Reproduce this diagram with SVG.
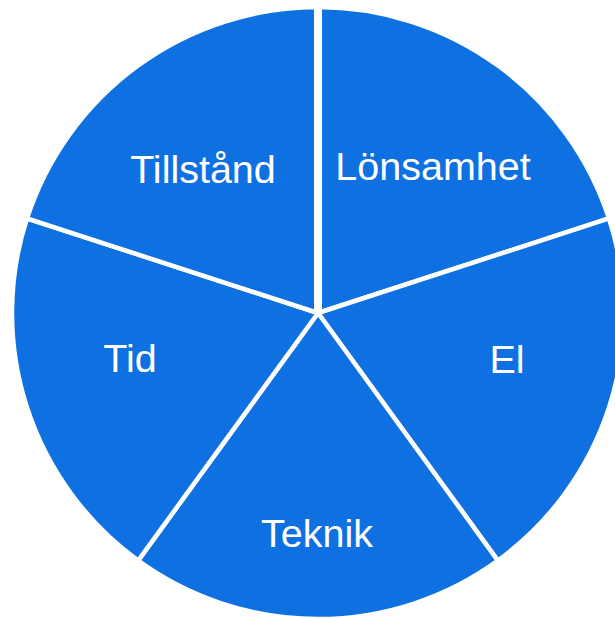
<svg xmlns="http://www.w3.org/2000/svg" width="615" height="619" viewBox="0 0 615 619">
<style>
.slice{fill:#0F71E1;stroke:#FFFFFF;stroke-width:4.5;stroke-linejoin:miter}
.lbl{font-family:"Liberation Sans",Arial,sans-serif;font-size:39.5px;fill:#FFFFFF;text-anchor:middle}
</style>
<rect width="615" height="619" fill="#FFFFFF"/>
<g id="lonsamhet">
<path class="slice" d="M318,313 L318,7 A306,306 0 0 1 609.03,218.44 Z"/>
<text class="lbl" x="433" y="180">Lönsamhet</text>
</g>
<g id="el">
<path class="slice" d="M318,313 L609.03,218.44 A306,306 0 0 1 497.86,560.56 Z"/>
<text class="lbl" x="507" y="373">El</text>
</g>
<g id="teknik">
<path class="slice" d="M318,313 L497.86,560.56 A306,306 0 0 1 138.14,560.56 Z"/>
<text class="lbl" x="317" y="547">Teknik</text>
</g>
<g id="tid">
<path class="slice" d="M318,313 L138.14,560.56 A306,306 0 0 1 26.97,218.44 Z"/>
<text class="lbl" x="130" y="372">Tid</text>
</g>
<g id="tillstand">
<path class="slice" d="M318,313 L26.97,218.44 A306,306 0 0 1 318,7 Z"/>
<text class="lbl" x="203" y="183">Tillstånd</text>
</g>
<g id="separators">
<line x1="318" y1="313" x2="318" y2="0" stroke="#FFFFFF" stroke-width="8"/>
</g>
</svg>
